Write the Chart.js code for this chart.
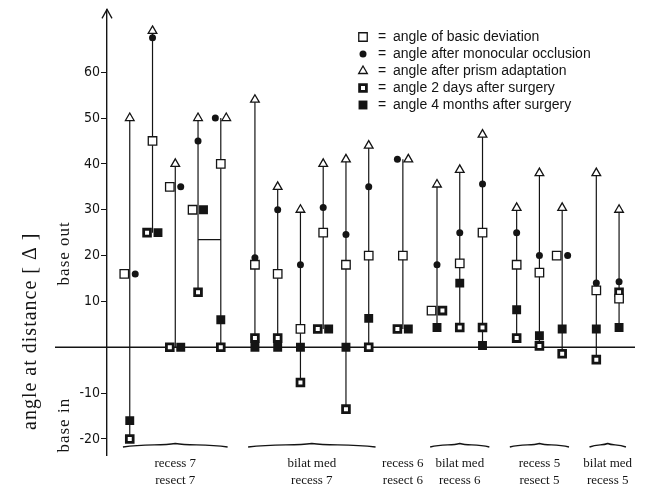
<!DOCTYPE html>
<html lang="en">
<head>
<meta charset="UTF-8">
<title>angle at distance</title>
<script src="https://cdn.jsdelivr.net/npm/chart.js"></script>
<style>
  html, body { margin: 0; padding: 0; background: #fff; }
  #wrap { width: 660px; height: 487px; }
</style>
</head>
<body>
<div id="wrap"><canvas id="chart" width="660" height="487"></canvas></div>
<script>
// operation groups (labels under the axis) and how many patients in each
const groupLabels = [
  ['recess 7', 'resect 7'],
  ['bilat med', 'recess 7'],
  ['recess 6', 'resect 6'],
  ['bilat med', 'recess 6'],
  ['recess 5', 'resect 5'],
  ['bilat med', 'recess 5']
];
const groupSizes = [5, 6, 1, 3, 3, 2];

// angle at distance (prism dioptres), one value per patient, left to right
const basicDeviation   = [16, 45, 35, 30, 40, 18, 16, 4, 25, 18, 20, 20, 8, 18.3, 25, 18, 16.3, 20, 12.4, 10.6];
const afterOcclusion   = [16, 67.5, 35, 45, 50, 19.5, 30, 18, 30.5, 24.6, 35, 41, 18, 25, 35.6, 25, 20, 20, 14, 14.3];
const afterPrism       = [50, 69, 40, 50, 50, 54, 35, 30, 40, 41, 44, 41, 35.5, 38.7, 46.4, 30.4, 38, 30.4, 38, 30];
const twoDaysPostOp    = [-20, 25, 0, 12, 0, 2, 2, -7.7, 4, -13.5, 0, 4, 8, 4.3, 4.3, 2, 0.3, -1.4, -2.7, 12];
const fourMonthsPostOp = [-16, 25, 0, 30, 6, 0, 0, 0, 4, 0, 6.3, 4, 4.3, 14, 0.4, 8.2, 2.5, 4, 4, 4.3];

// patients 4 and 5 are joined by a short bar
const linkedPatients = [3, 4];
const linkValue = 23.5;

const yTicks = [-20, -10, 10, 20, 30, 40, 50, 60];

const INK = '#141414';

// x position of each patient: step 1 inside a group, 1.5 between groups
const xs = [];
const groupCenters = [];
let pos = 0;
groupSizes.forEach(n => {
  const first = pos;
  for (let i = 0; i < n; i++) { xs.push(pos); pos += 1; }
  groupCenters.push((first + pos - 1) / 2);
  pos += 0.5;
});

const series = [
  { label: 'angle of basic deviation', data: basicDeviation, pointStyle: 'rect', radius: 6, bg: '#fff', bw: 1.3 },
  { label: 'angle after monocular occlusion', data: afterOcclusion, pointStyle: 'circle', radius: 3.5, bg: INK, bw: 0 },
  { label: 'angle after prism adaptation', data: afterPrism, pointStyle: 'triangle', radius: 5, bg: '#fff', bw: 1.3 },
  { label: 'angle 2 days after surgery', data: twoDaysPostOp, pointStyle: 'rect', radius: 4.8, bg: '#fff', bw: 2.8 },
  { label: 'angle 4 months after surgery', data: fourMonthsPostOp, pointStyle: 'rect', radius: 6.3, bg: INK, bw: 0 }
];

// markers with the same value on one patient are put side by side
function sideOffset(s, p) {
  const v = series[s].data[p];
  const same = series.map((o, i) => i).filter(i => series[i].data[p] === v);
  if (same.length < 2) return 0;
  const k = same.indexOf(s);
  return (k - (same.length - 1) / 2) * 0.48;
}

const markerSets = series.map((s, si) => ({
  label: s.label,
  data: xs.map((x, p) => ({ x: x + sideOffset(si, p), y: s.data[p] })),
  pointStyle: s.pointStyle,
  pointRadius: s.radius,
  pointBackgroundColor: s.bg,
  pointBorderColor: INK,
  pointBorderWidth: s.bw,
  showLine: false,
  order: 1
}));

const stemData = [];
xs.forEach((x, p) => {
  const vals = series.map(s => s.data[p]);
  stemData.push({ x: x, y: Math.max(...vals) });
  stemData.push({ x: x, y: Math.min(...vals) });
  stemData.push({ x: x, y: null });
});

const stems = {
  label: 'stems',
  data: stemData,
  showLine: true,
  spanGaps: false,
  borderColor: INK,
  borderWidth: 1.2,
  pointRadius: 0,
  order: 5
};

const link = {
  label: 'link',
  data: linkedPatients.map(p => ({ x: xs[p], y: linkValue })),
  showLine: true,
  borderColor: INK,
  borderWidth: 1.2,
  pointRadius: 0,
  order: 5
};

function verticalText(ctx, text, x, y, font, spacing) {
  ctx.save();
  ctx.translate(x, y);
  ctx.rotate(-Math.PI / 2);
  ctx.font = font;
  ctx.letterSpacing = spacing;
  ctx.textAlign = 'center';
  ctx.textBaseline = 'middle';
  ctx.fillStyle = INK;
  ctx.fillText(text, 0, 0);
  ctx.restore();
}

function brace(ctx, x0, x1, y) {
  const xm = (x0 + x1) / 2;
  const h = xm - x0;
  ctx.beginPath();
  ctx.moveTo(x0, y + 2);
  ctx.bezierCurveTo(x0 + h * 0.45, y - 1.5, xm - h * 0.3, y + 1, xm, y - 1.5);
  ctx.bezierCurveTo(xm + h * 0.3, y + 1, x1 - h * 0.45, y - 1.5, x1, y + 2);
  ctx.stroke();
}

const decor = {
  id: 'decor',
  beforeDatasetsDraw(chart) {
    const ctx = chart.ctx;
    const area = chart.chartArea;
    const xScale = chart.scales.x;
    const yScale = chart.scales.y;
    ctx.save();
    ctx.strokeStyle = INK;
    ctx.lineWidth = 1.3;

    // zero line, running out past the axis
    const y0 = yScale.getPixelForValue(0);
    ctx.beginPath();
    ctx.moveTo(area.left - 52, y0);
    ctx.lineTo(area.right, y0);
    ctx.stroke();

    // arrow head on the y axis
    ctx.beginPath();
    ctx.moveTo(area.left - 5, area.top + 9);
    ctx.lineTo(area.left, area.top);
    ctx.lineTo(area.left + 5, area.top + 9);
    ctx.stroke();

    // braces above the group labels
    ctx.lineWidth = 1.4;
    let start = 0;
    groupSizes.forEach(n => {
      if (n > 1) {
        brace(ctx, xScale.getPixelForValue(xs[start] - 0.3),
          xScale.getPixelForValue(xs[start + n - 1] + 0.3), area.bottom - 10);
      }
      start += n;
    });
    ctx.restore();

    verticalText(ctx, 'angle at distance [ \u0394 ]', 31, yScale.getPixelForValue(3.5),
      '20px "Liberation Serif", "DejaVu Serif", serif', '1px');
    verticalText(ctx, 'base out', 65, yScale.getPixelForValue(20.5),
      '17px "Liberation Serif", "DejaVu Serif", serif', '1px');
    verticalText(ctx, 'base in', 65, yScale.getPixelForValue(-17),
      '17px "Liberation Serif", "DejaVu Serif", serif', '1px');
  },
  afterDraw(chart) {
    const ctx = chart.ctx;
    ctx.save();
    series.forEach((s, i) => {
      const y = 37 + i * 17;
      ctx.fillStyle = s.bg;
      ctx.strokeStyle = INK;
      ctx.lineWidth = s.bw;
      Chart.helpers.drawPoint(ctx, { pointStyle: s.pointStyle, radius: s.radius, borderWidth: s.bw, rotation: 0 }, 363, y);
      ctx.fillStyle = INK;
      ctx.font = '14px "Liberation Sans", Arial, sans-serif';
      ctx.textBaseline = 'middle';
      ctx.textAlign = 'left';
      ctx.fillText('=', 378, y);
      ctx.fillText(s.label, 393, y);
    });
    ctx.restore();
  }
};

new Chart(document.getElementById('chart'), {
  type: 'scatter',
  data: { datasets: [...markerSets, stems, link] },
  options: {
    responsive: false,
    animation: false,
    devicePixelRatio: 1,
    layout: { padding: { left: 0, right: 25, top: 8, bottom: 0 } },
    plugins: {
      legend: { display: false },
      tooltip: { enabled: false }
    },
    scales: {
      x: {
        type: 'linear',
        min: -1,
        max: 22.2,
        grid: { display: false, drawTicks: false },
        border: { display: false },
        afterBuildTicks(scale) {
          scale.ticks = groupCenters.map(v => ({ value: v }));
        },
        afterFit(scale) { scale.height = 32; },
        ticks: {
          autoSkip: false,
          maxRotation: 0,
          padding: 0,
          color: INK,
          font: { family: '"Liberation Serif", "DejaVu Serif", serif', size: 13, lineHeight: 1.3 },
          callback: (v, i) => groupLabels[i]
        }
      },
      y: {
        min: -23.5,
        max: 73.7,
        afterBuildTicks(scale) {
          scale.ticks = yTicks.map(v => ({ value: v }));
        },
        afterFit(scale) { scale.width = 107; },
        grid: { drawOnChartArea: false, drawTicks: true, tickLength: 6, tickColor: INK, tickWidth: 1 },
        border: { display: true, color: INK, width: 1.4 },
        ticks: {
          padding: 1,
          color: INK,
          font: { family: '"DejaVu Sans Condensed", "Liberation Sans Narrow", sans-serif', size: 14 }
        }
      }
    }
  },
  plugins: [decor]
});
</script>
</body>
</html>
